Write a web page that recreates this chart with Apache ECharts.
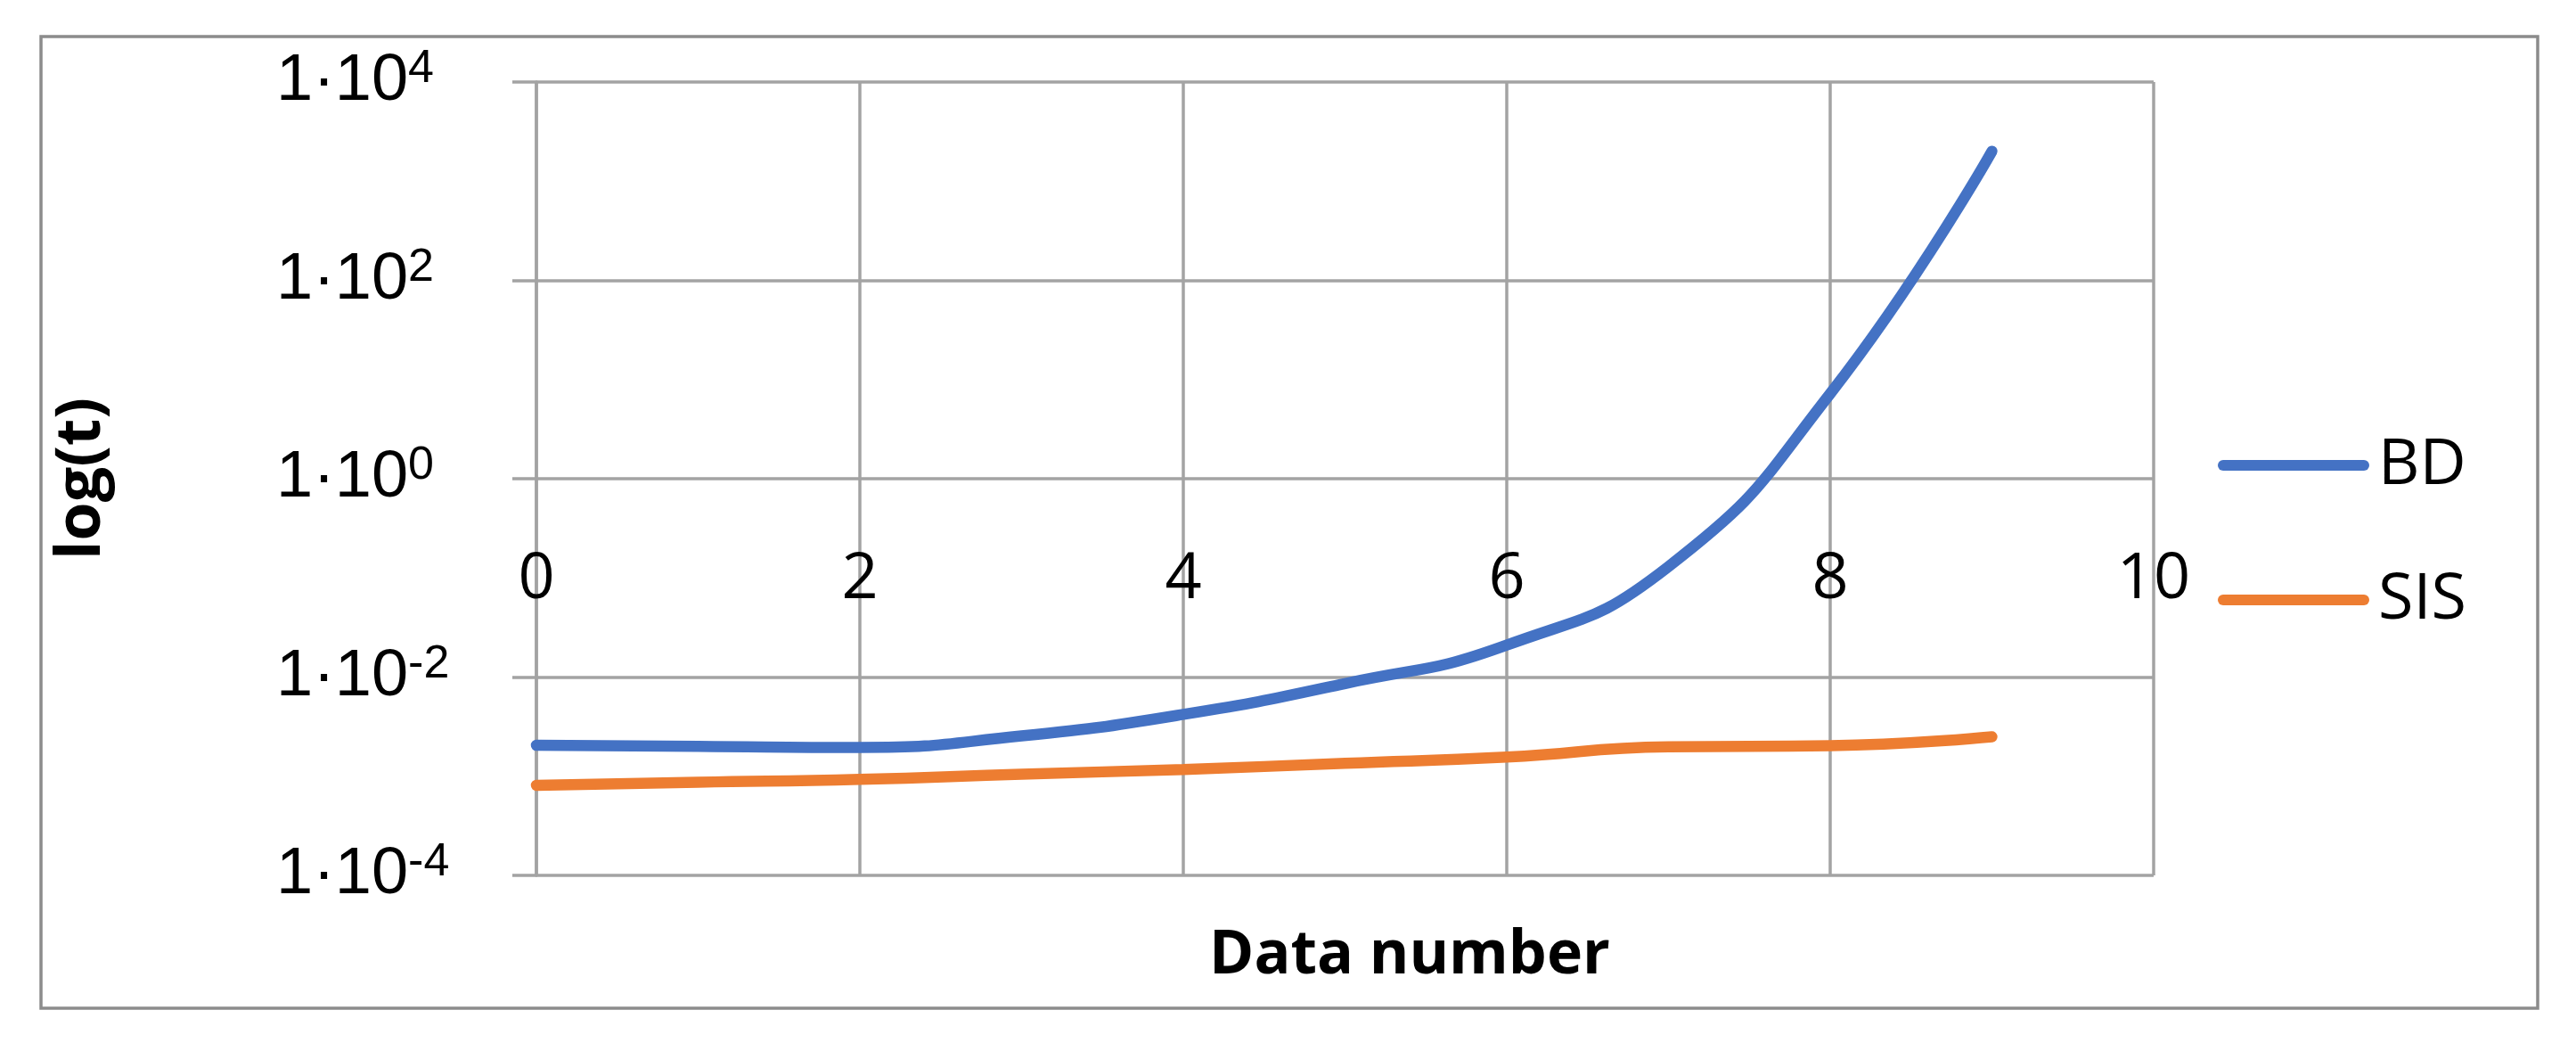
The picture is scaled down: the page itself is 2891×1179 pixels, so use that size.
<!DOCTYPE html>
<html><head><meta charset="utf-8">
<script src="https://cdn.jsdelivr.net/npm/echarts@6/dist/echarts.min.js"></script>
<style>html,body{margin:0;padding:0;background:#fff}#c{width:2891px;height:1179px}</style>
</head><body><div id="c"></div>
<script>
// ---- data ----
const dataNumbers = [0, 1, 2, 3, 4, 5, 6, 7, 8, 9];
const bdValues  = [2.05e-3, 2.0e-3, 1.95e-3, 2.55e-3, 4.2e-3, 8.6e-3, 2.1e-2, 0.13, 7.2, 2000];
const sisValues = [8.1e-4, 8.7e-4, 9.3e-4, 1.05e-3, 1.17e-3, 1.35e-3, 1.56e-3, 1.98e-3, 2.03e-3, 2.5e-3];
const seriesNames = ['BD', 'SIS'];
const xTickValues = [0, 2, 4, 6, 8, 10];
const xTickLabels = ['0', '2', '4', '6', '8', '10'];
const yTickValues = [1e-4, 1e-2, 1, 1e2, 1e4];
const yTickBase = '1·10';
const yTickExponents = ['-4', '-2', '0', '2', '4'];

const gridColor = '#a3a3a3';
const chart = echarts.init(document.getElementById('c'));
const toPairs = vals => dataNumbers.map((x, i) => [x, vals[i]]);

chart.setOption({
  backgroundColor: '#ffffff',
  animation: false,
  graphic: [{
    type: 'rect', silent: true, z: -10,
    shape: { x: 46, y: 41, width: 2802, height: 1090 },
    style: { fill: 'none', stroke: '#8c8c8c', lineWidth: 3.5 }
  }],
  grid: { left: 602, right: 474, top: 92, bottom: 197, containLabel: false },
  legend: {
    orient: 'vertical', left: 2484, top: 477, itemGap: 71,
    itemWidth: 170, itemHeight: 12,
    icon: 'path://M6,0H164A6,6,0,0,1,164,12H6A6,6,0,0,1,6,0Z',
    textStyle: { fontFamily: 'Open Sans', fontSize: 72, color: '#000', lineHeight: 80, padding: [0, 0, 0, 5] },
    data: seriesNames
  },
  xAxis: {
    type: 'value', min: 0, max: 10, interval: 2,
    name: 'Data number', nameLocation: 'middle', nameGap: 57,
    nameTextStyle: { fontFamily: 'Open Sans', fontWeight: 'bold', fontSize: 68, color: '#000', padding: [0, 0, 0, 145] },
    axisLine: { show: false }, axisTick: { show: false },
    axisLabel: {
      margin: -332, verticalAlign: 'middle',
      fontFamily: 'Open Sans', fontSize: 72, color: '#000',
      formatter: v => { const i = xTickValues.indexOf(v); return i >= 0 ? xTickLabels[i] : ''; }
    },
    splitLine: { show: true, lineStyle: { color: gridColor, width: 3.5 } }
  },
  yAxis: {
    type: 'log', logBase: 10, min: 1e-4, max: 1e4, interval: 2,
    name: 'log(t)', nameLocation: 'middle', nameGap: 475,
    nameTextStyle: { fontFamily: 'Open Sans', fontWeight: 'bold', fontSize: 70, color: '#000' },
    axisLine: { show: true, lineStyle: { color: gridColor, width: 3.5 } },
    axisTick: { show: true, length: 27, lineStyle: { color: gridColor, width: 3.5 } },
    axisLabel: {
      margin: 292, align: 'left',
      formatter: v => {
        const i = yTickValues.findIndex(t => Math.abs(Math.log10(t) - Math.log10(v)) < 1e-6);
        return i >= 0 ? '{m|' + yTickBase + '}{s|' + yTickExponents[i] + '}' : '';
      },
      rich: {
        m: { fontFamily: 'Liberation Sans', fontSize: 74, color: '#000', lineHeight: 80, verticalAlign: 'middle' },
        s: { fontFamily: 'Liberation Sans', fontSize: 52, color: '#000', lineHeight: 54, verticalAlign: 'top' }
      }
    },
    splitLine: { show: true, lineStyle: { color: gridColor, width: 3.5 } }
  },
  series: [
    { name: seriesNames[0], type: 'line', data: toPairs(bdValues), smooth: true, symbol: 'none',
      lineStyle: { color: '#4472C4', width: 12.5, cap: 'round' }, itemStyle: { color: '#4472C4' } },
    { name: seriesNames[1], type: 'line', data: toPairs(sisValues), smooth: true, symbol: 'none',
      lineStyle: { color: '#ED7D31', width: 12.5, cap: 'round' }, itemStyle: { color: '#ED7D31' } }
  ]
});
</script></body></html>
